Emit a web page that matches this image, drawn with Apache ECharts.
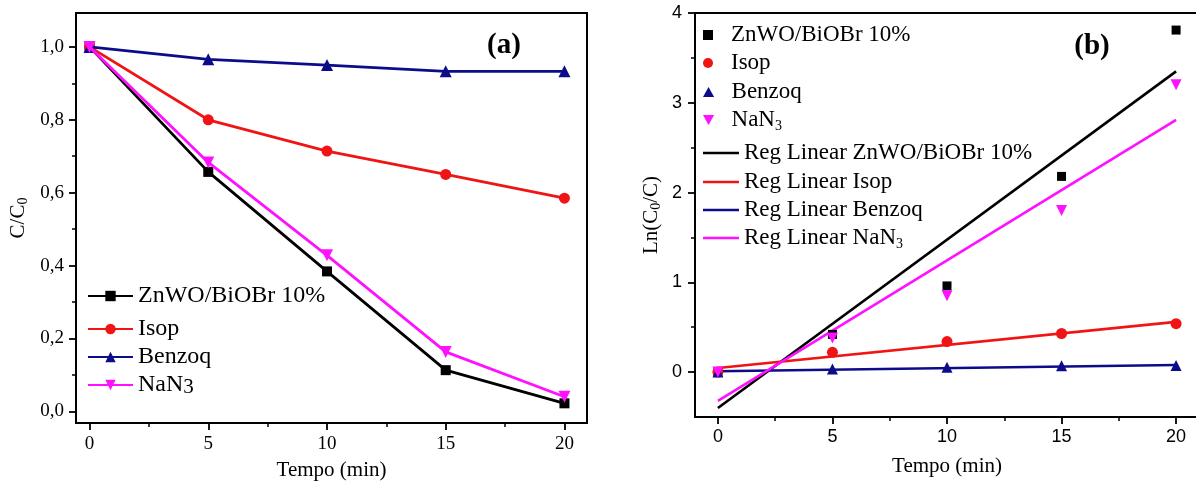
<!DOCTYPE html>
<html>
<head>
<meta charset="utf-8">
<script src="https://cdn.jsdelivr.net/npm/echarts@6/dist/echarts.min.js"></script>
<style>html,body{margin:0;padding:0;background:#fff;}#main{width:1196px;height:482px;}</style>
</head>
<body>
<div id="main"></div>
<script>
// ---------- data ----------
const times = [0, 5, 10, 15, 20];
// panel (a): C/C0
const ccZnWO   = [1.0, 0.657, 0.384, 0.113, 0.022];
const ccIsop   = [1.0, 0.800, 0.714, 0.650, 0.585];
const ccBenzoq = [1.0, 0.966, 0.950, 0.933, 0.933];
const ccNaN3   = [1.0, 0.683, 0.428, 0.163, 0.040];
// panel (b): Ln(C0/C)
const lnZnWO   = [0, 0.42, 0.96, 2.18, 3.81];
const lnIsop   = [0, 0.22, 0.34, 0.43, 0.54];
const lnBenzoq = [0, 0.035, 0.053, 0.070, 0.075];
const lnNaN3   = [0, 0.38, 0.85, 1.80, 3.20];
// regression lines (end values at t = 0 and t = 20)
const regT      = [0, 20];
const regZnWO   = [-0.40, 3.35];
const regIsop   = [0.045, 0.56];
const regBenzoq = [0.01, 0.08];
const regNaN3   = [-0.32, 2.81];
// ticks
const xMajor  = [0, 5, 10, 15, 20];
const xMinor  = [2.5, 7.5, 12.5, 17.5];
const yMajorA = [0, 0.2, 0.4, 0.6, 0.8, 1.0];
const yMinorA = [0.1, 0.3, 0.5, 0.7, 0.9];
const yMajorB = [0, 1, 2, 3, 4];
const yMinorB = [0.5, 1.5, 2.5, 3.5];

const names = ['ZnWO/BiOBr 10%', 'Isop', 'Benzoq', 'NaN3'];
const regNames = ['Reg Linear ZnWO/BiOBr 10%', 'Reg Linear Isop', 'Reg Linear Benzoq', 'Reg Linear NaN3'];
const colors = ['#000000', '#f01414', '#0c0c8a', '#ff10ff'];

const SERIF = '"Liberation Serif", "Times New Roman", serif';
const SANS = '"Liberation Sans", Arial, sans-serif';
const DOWN_TRI = 'path://M0,0L10,0L5,9Z';
const UP_TRI = 'path://M5,0L10,9L0,9Z';
const SQUARE = 'path://M0,0H10V10H0Z';
const CIRCLE = 'path://M5,0A5,5,0,1,1,5,10A5,5,0,1,1,5,0Z';

const pairs = (xs, ys) => xs.map((x, i) => [x, ys[i]]);

function mainAxis(gridIndex, pos, min, max, ticks, fmt, font, fsize, margin, name, nameGap) {
  return {
    type: 'value', gridIndex, position: pos, min, max, offset: 0,
    axisLine: { show: true, onZero: false, lineStyle: { color: '#000', width: 2 } },
    axisTick: { show: true, inside: false, customValues: ticks, length: 7, lineStyle: { color: '#000', width: 1.8 } },
    axisLabel: { show: true, customValues: ticks, formatter: fmt, margin, color: '#000', fontFamily: font, fontSize: fsize },
    splitLine: { show: false }, minorTick: { show: false },
    name, nameLocation: 'middle', nameGap,
    nameTextStyle: { color: '#000', fontFamily: SERIF, fontSize: 21, lineHeight: 24,
      rich: { sub: { color: '#000', fontFamily: SERIF, fontSize: 14, lineHeight: 12, verticalAlign: 'bottom' } } }
  };
}
function minorAxis(gridIndex, pos, min, max, ticks) {
  return {
    type: 'value', gridIndex, position: pos, min, max, offset: 0,
    axisLine: { show: false, onZero: false },
    axisTick: { show: true, inside: false, customValues: ticks, length: 4, lineStyle: { color: '#000', width: 1.5 } },
    axisLabel: { show: false }, splitLine: { show: false }
  };
}

const fmtA = v => v.toFixed(1).replace('.', ',');
const fmtInt = v => String(Math.round(v));

const xAxis = [
  mainAxis(0, 'bottom', -0.57, 20.95, xMajor, fmtInt, SERIF, 19, 12, 'Tempo (min)', 35),
  minorAxis(0, 'bottom', -0.57, 20.95, xMinor),
  mainAxis(1, 'bottom', -1, 21, xMajor, fmtInt, SANS, 18, 11, 'Tempo (min)', 37),
  minorAxis(1, 'bottom', -1, 21, xMinor)
];
const yAxis = [
  mainAxis(0, 'left', -0.032, 1.093, yMajorA, fmtA, SERIF, 19, 12, 'C/C{sub|0}', 46),
  minorAxis(0, 'left', -0.032, 1.093, yMinorA),
  mainAxis(1, 'left', -0.5, 4, yMajorB, fmtInt, SANS, 18, 13, 'Ln(C{sub|0}/C)', 32),
  minorAxis(1, 'left', -0.5, 4, yMinorB)
];

const symA = ['rect', 'circle', 'triangle', DOWN_TRI];
const sizeA = [10, 11, 12, 12];
const ccData = [ccZnWO, ccIsop, ccBenzoq, ccNaN3];
const lnData = [lnZnWO, lnIsop, lnBenzoq, lnNaN3];
const regData = [regZnWO, regIsop, regBenzoq, regNaN3];

const series = [];
// panel (a)
ccData.forEach((d, i) => series.push({
  type: 'line', name: names[i], xAxisIndex: 0, yAxisIndex: 0,
  data: pairs(times, d), symbol: symA[i], symbolSize: sizeA[i], showSymbol: true,
  color: colors[i], lineStyle: { color: colors[i], width: 2.8 }, itemStyle: { color: colors[i] },
  z: 2 + i
}));
// panel (b) regression lines
regData.forEach((d, i) => series.push({
  type: 'line', name: regNames[i], xAxisIndex: 2, yAxisIndex: 2,
  data: pairs(regT, d), symbol: 'none', color: colors[i],
  lineStyle: { color: colors[i], width: 2.6 }, itemStyle: { color: colors[i] }, z: 2
}));
// panel (b) points
const symB = ['rect', 'circle', 'triangle', DOWN_TRI];
const sizeB = [9, 11, 11, 11];
lnData.forEach((d, i) => series.push({
  type: 'scatter', name: names[i] + ' ', xAxisIndex: 2, yAxisIndex: 2,
  data: pairs(times, d), symbol: symB[i], symbolSize: sizeB[i],
  itemStyle: { color: colors[i], opacity: 1 }, color: colors[i], z: 4
}));

function legendItem(name, left, centerY, w, h, fontSize, subSize, icon) {
  const o = {
    data: [name], left, top: centerY - 13, orient: 'horizontal', padding: 0, itemGap: 0,
    itemWidth: w, itemHeight: h, selectedMode: false,
    textStyle: { color: '#000', fontFamily: SERIF, fontSize, lineHeight: 26,
      rich: { sub: { color: '#000', fontFamily: SERIF, fontSize: subSize, lineHeight: 14, verticalAlign: 'bottom' } } },
    formatter: n => n.replace(/NaN3/, 'NaN{sub|3}')
  };
  if (icon) o.icon = icon;
  return o;
}
const legend = [];
const yA = [296, 329, 357, 385];
names.forEach((n, i) => legend.push(legendItem(n, 87, yA[i], 45, 13, 24, 21, null)));
const yB = [35, 63, 92, 120, 153, 182, 210, 238];
const iconB = [SQUARE, CIRCLE, UP_TRI, DOWN_TRI];
names.forEach((n, i) => legend.push(legendItem(n + ' ', 703, yB[i], 36, 10, 23, 14, iconB[i])));
regNames.forEach((n, i) => legend.push(legendItem(n, 703, yB[i + 4], 36, 2.5, 23, 14, 'rect')));

const option = {
  animation: false,
  backgroundColor: '#fff',
  grid: [
    { left: 76, top: 13, width: 511, height: 410, show: true, borderColor: '#000', borderWidth: 2, backgroundColor: 'transparent', outerBoundsMode: 'none', containLabel: false },
    { left: 695, top: 13, width: 504, height: 404, show: true, borderColor: '#000', borderWidth: 2, backgroundColor: 'transparent', outerBoundsMode: 'none', containLabel: false }
  ],
  xAxis, yAxis, legend, series,
  graphic: [
    { type: 'text', x: 504, y: 46, style: { text: '(a)', font: 'bold 29px "Liberation Serif"', fill: '#000', align: 'center', verticalAlign: 'middle' } },
    { type: 'text', x: 1092, y: 47, style: { text: '(b)', font: 'bold 29px "Liberation Serif"', fill: '#000', align: 'center', verticalAlign: 'middle' } }
  ]
};
const chart = echarts.init(document.getElementById('main'));
chart.setOption(option);
</script>
</body>
</html>
